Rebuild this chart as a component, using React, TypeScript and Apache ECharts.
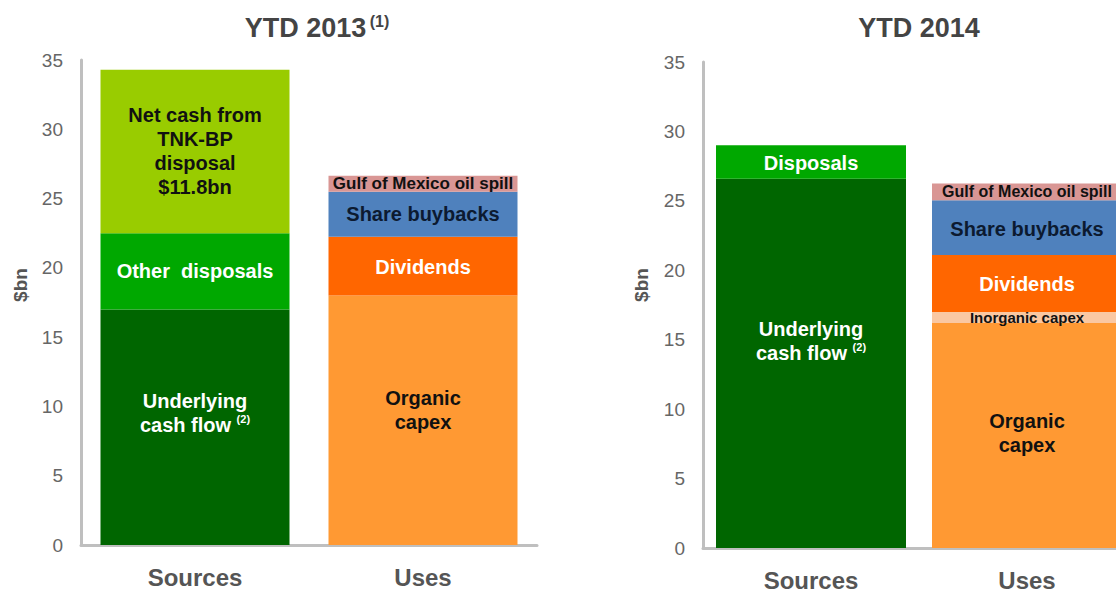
import React, { useEffect, useRef } from 'react';
import * as echarts from 'echarts';

const FONT = '"Liberation Sans", Arial, Helvetica, sans-serif';

const categories = ['Sources', 'Uses'];
const titles = ['YTD 2013', 'YTD 2014'];
const titleNotes = ['(1)', ''];
const axisName = '$bn';

// YTD 2013
const sources2013 = [17.0, 5.5, 11.8];
const sources2013Labels = ['Underlying\ncash flow {sup|(2)}', 'Other  disposals', 'Net cash from\nTNK-BP\ndisposal\n$11.8bn'];
const uses2013 = [18.0, 4.25, 3.25, 1.15];
const uses2013Labels = ['Organic\ncapex', 'Dividends', 'Share buybacks', 'Gulf of Mexico oil spill'];

// YTD 2014
const sources2014 = [26.6, 2.4];
const sources2014Labels = ['Underlying\ncash flow {sup|(2)}', 'Disposals'];
const uses2014 = [16.2, 0.8, 4.1, 3.95, 1.2];
const uses2014Labels = ['Organic\ncapex', 'Inorganic capex', 'Dividends', 'Share buybacks', 'Gulf of Mexico oil spill'];

const COL = {
  dark: '#006600',
  mid: '#00A800',
  light: '#99CC00',
  organic: '#FF9933',
  inorg: '#FAC8A2',
  div: '#FF6600',
  buy: '#4F81BD',
  gulf: '#D99694',
};

type Sty = { color: string; text: string; size: number; dy: number };

const src2013Style: Sty[] = [
  { color: COL.dark, text: '#fff', size: 20, dy: -14 },
  { color: COL.mid, text: '#fff', size: 20, dy: 0 },
  { color: COL.light, text: '#111', size: 20, dy: 0 },
];
const use2013Style: Sty[] = [
  { color: COL.organic, text: '#111', size: 20, dy: -10 },
  { color: COL.div, text: '#fff', size: 20, dy: 1 },
  { color: COL.buy, text: '#0c1a30', size: 20, dy: 0 },
  { color: COL.gulf, text: '#111', size: 17, dy: 0 },
];
const src2014Style: Sty[] = [
  { color: COL.dark, text: '#fff', size: 20, dy: -22 },
  { color: COL.mid, text: '#fff', size: 20, dy: 1 },
];
const use2014Style: Sty[] = [
  { color: COL.organic, text: '#111', size: 20, dy: -3 },
  { color: COL.inorg, text: '#111', size: 15, dy: 0 },
  { color: COL.div, text: '#fff', size: 20, dy: 1 },
  { color: COL.buy, text: '#0c1a30', size: 20, dy: 1 },
  { color: COL.gulf, text: '#111', size: 16, dy: 0 },
];

function makeSeries(gi: number, catIdx: number, values: number[], labels: string[], styles: Sty[], barWidth: number) {
  return values.map((v, i) => {
    const s = styles[i];
    return {
      type: 'bar',
      name: labels[i].replace(/\n/g, ' '),
      xAxisIndex: gi,
      yAxisIndex: gi,
      stack: 'g' + gi,
      barWidth,
      data: catIdx === 0 ? [v, null] : [null, v],
      itemStyle: { color: s.color },
      label: {
        show: true,
        position: 'inside',
        formatter: labels[i],
        color: s.text,
        fontSize: s.size,
        fontWeight: 'bold',
        fontFamily: FONT,
        lineHeight: 24,
        offset: [0, s.dy],
        rich: {
          sup: { fontSize: 11, fontWeight: 'bold', color: s.text, fontFamily: FONT, verticalAlign: 'top', lineHeight: 12 },
        },
      },
    };
  });
}

export default function App() {
  const ref = useRef<HTMLDivElement>(null);
  useEffect(() => {
    if (!ref.current) return;
    document.body.style.overflow = 'hidden';
    const chart = echarts.init(ref.current, undefined, { renderer: 'svg' });
    const grids = [
      { left: 81, top: 60, width: 456, height: 485 },
      { left: 703, top: 62, width: 432, height: 488 },
    ];
    const axisLineStyle = { color: '#BFBFBF', width: 3 };
    const option: any = {
      animation: false,
      backgroundColor: '#ffffff',
      textStyle: { fontFamily: FONT },
      grid: grids,
      xAxis: grids.map((_, i) => ({
        gridIndex: i,
        type: 'category',
        data: categories,
        axisLine: { show: true, lineStyle: axisLineStyle },
        axisTick: { show: false },
        axisLabel: { color: '#555', fontSize: 24, fontWeight: 'bold', margin: 20, fontFamily: FONT },
      })),
      yAxis: grids.map((_, i) => ({
        gridIndex: i,
        type: 'value',
        min: 0,
        max: 35,
        interval: 5,
        axisLine: { show: true, lineStyle: axisLineStyle },
        axisTick: { show: false },
        splitLine: { show: false },
        axisLabel: { color: '#666', fontSize: 19, margin: 18, fontFamily: FONT },
      })),
      series: [
        ...makeSeries(0, 0, sources2013, sources2013Labels, src2013Style, 189),
        ...makeSeries(0, 1, uses2013, uses2013Labels, use2013Style, 189),
        ...makeSeries(1, 0, sources2014, sources2014Labels, src2014Style, 190),
        ...makeSeries(1, 1, uses2014, uses2014Labels, use2014Style, 190),
      ],
      graphic: [
        {
          type: 'text',
          x: 317,
          y: 28,
          style: {
            text: '{t|' + titles[0] + '} {s|' + titleNotes[0] + '}',
            align: 'center',
            verticalAlign: 'middle',
            rich: {
              t: { fontSize: 27, fontWeight: 'bold', fill: '#444', fontFamily: FONT, lineHeight: 30 },
              s: { fontSize: 16, fontWeight: 'bold', fill: '#444', fontFamily: FONT, verticalAlign: 'top', lineHeight: 17 },
            },
          },
        },
        {
          type: 'text',
          x: 919,
          y: 28,
          style: {
            text: titles[1],
            align: 'center',
            verticalAlign: 'middle',
            fontSize: 27,
            fontWeight: 'bold',
            fill: '#444',
            fontFamily: FONT,
          },
        },
        {
          type: 'text',
          x: 20,
          y: 285,
          rotation: Math.PI / 2,
          style: { text: axisName, align: 'center', verticalAlign: 'middle', fontSize: 19, fontWeight: 'bold', fill: '#555', fontFamily: FONT },
        },
        {
          type: 'text',
          x: 641,
          y: 285,
          rotation: Math.PI / 2,
          style: { text: axisName, align: 'center', verticalAlign: 'middle', fontSize: 19, fontWeight: 'bold', fill: '#555', fontFamily: FONT },
        },
      ],
    };
    chart.setOption(option);
    return () => chart.dispose();
  }, []);
  return (
    <div
      ref={ref}
      style={{ position: 'fixed', left: 0, top: 0, width: 1180, height: 592, background: '#fff' }}
    />
  );
}
